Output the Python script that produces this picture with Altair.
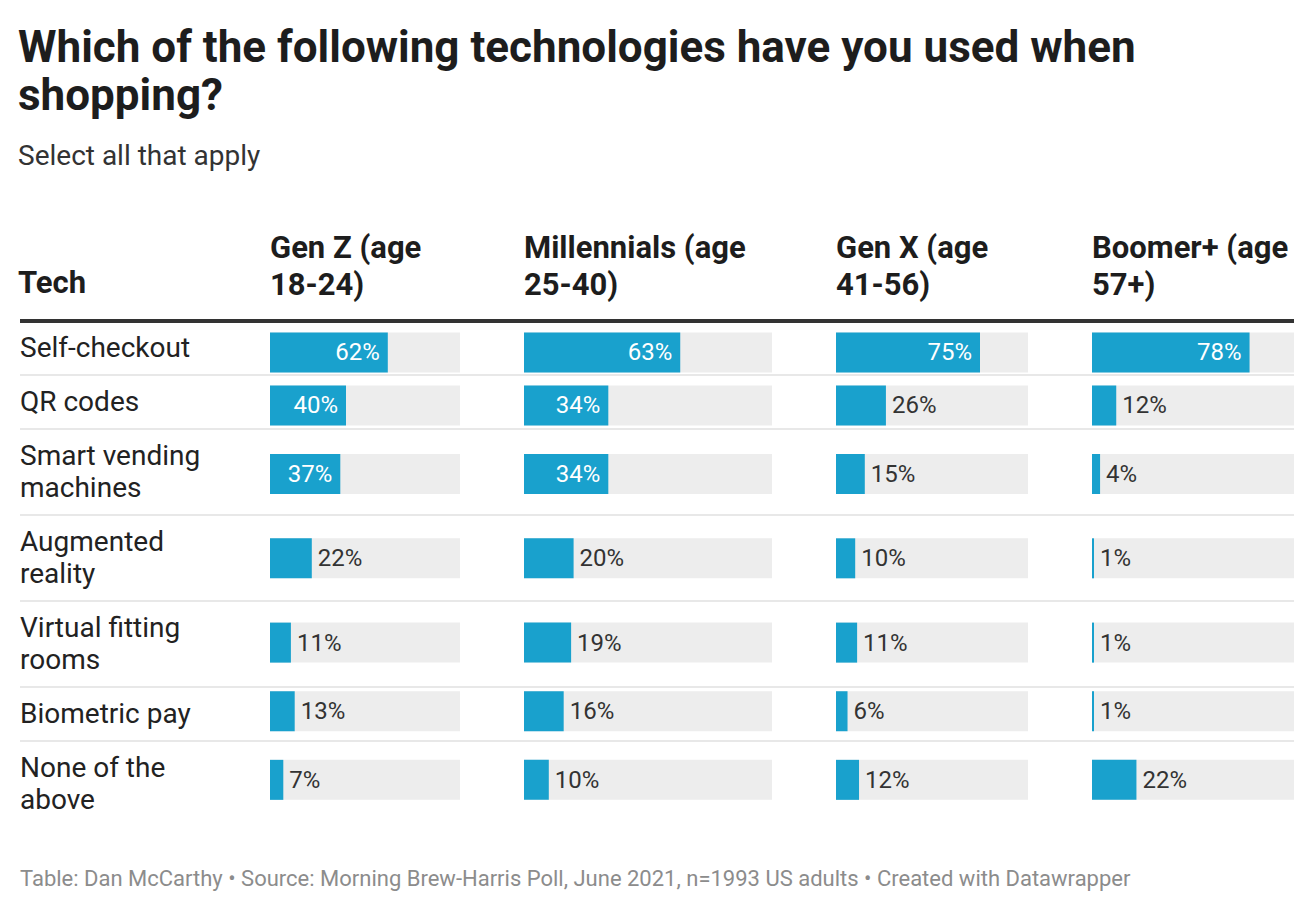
import altair as alt
import pandas as pd

techs = ["Self-checkout", "QR codes", "Smart vending\nmachines", "Augmented\nreality",
         "Virtual fitting\nrooms", "Biometric pay", "None of the\nabove"]
gen_z = [62, 40, 37, 22, 11, 13, 7]
millennials = [63, 34, 34, 20, 19, 16, 10]
gen_x = [75, 26, 15, 10, 11, 6, 12]
boomers = [78, 12, 4, 1, 1, 1, 22]
headers = [["Gen Z (age", "18-24)"], ["Millennials (age", "25-40)"],
           ["Gen X (age", "41-56)"], ["Boomer+ (age", "57+)"]]
row_header = "Tech"
title_lines = ["Which of the following technologies have you used when", "shopping?"]
subtitle = "Select all that apply"
footer = "Table: Dan McCarthy \u2022 Source: Morning Brew-Harris Poll, June 2021, n=1993 US adults \u2022 Created with Datawrapper"

FONT = "Roboto"
BLUE = "#19a1cd"
BG = "#ededed"
SEP = "#e8e8e8"
LINE_H = 32

# row layout from the number of text lines per label
starts, mids, text_ys = [], [], []
pos = 0
for t in techs:
    n = t.count("\n") + 1
    h = 22 + LINE_H * n
    starts.append(pos)
    mids.append(pos + h / 2)
    text_ys.append(pos + h / 2 - LINE_H / 2 * (n - 1))
    pos += h
TOTAL = pos

df = pd.DataFrame({
    "tech": techs, "row_start": starts, "row_mid": mids, "text_y": text_ys,
    "gen_z": gen_z, "millennials": millennials, "gen_x": gen_x, "boomers": boomers,
})

yscale = alt.Scale(domain=[0, TOTAL], reverse=True, nice=False, zero=False)
xscale = alt.Scale(domain=[0, 100], nice=False)
Y = alt.Y("row_mid:Q", scale=yscale, axis=None)
NOVIEW = alt.ViewBackground(stroke="transparent", strokeWidth=0)

panel_widths = [190, 248, 192, 202]
cols = ["gen_z", "millennials", "gen_x", "boomers"]
SPACING = 64
LABEL_W = 186
FULL_W = LABEL_W + sum(panel_widths) + SPACING * len(panel_widths)


def header_title(text):
    return alt.Title(text=text, anchor="start", font=FONT, fontSize=31, fontWeight="bold",
                     lineHeight=37, color="#1d1d1d", baseline="bottom", offset=-12)


def bar_panel(col, header, width):
    base = alt.Chart(df).transform_calculate(
        full="100", label=f"datum['{col}'] + '%'"
    ).encode(y=Y)
    bg = base.mark_bar(orient="horizontal", size=40, color=BG).encode(
        x=alt.X("full:Q", scale=xscale, axis=None))
    fg = base.mark_bar(orient="horizontal", size=40, color=BLUE).encode(
        x=alt.X(f"{col}:Q", scale=xscale, axis=None))
    lab_in = base.transform_filter(f"datum['{col}'] >= 30").mark_text(
        align="right", baseline="middle", dx=-8, dy=1, color="white", font=FONT, fontSize=24
    ).encode(x=alt.X(f"{col}:Q", scale=xscale, axis=None), text="label:N")
    lab_out = base.transform_filter(f"datum['{col}'] < 30").mark_text(
        align="left", baseline="middle", dx=6, dy=1, color="#333333", font=FONT, fontSize=24
    ).encode(x=alt.X(f"{col}:Q", scale=xscale, axis=None), text="label:N")
    return alt.layer(bg, fg, lab_in, lab_out).properties(
        width=width, height=TOTAL, title=header_title(header), view=NOVIEW)


labels = alt.Chart(df).mark_text(
    align="left", baseline="middle", lineBreak="\n", lineHeight=LINE_H, font=FONT,
    fontSize=28, color="#222222", dy=1
).encode(x=alt.value(0), y=alt.Y("text_y:Q", scale=yscale, axis=None), text="tech:N")

seps = alt.Chart(df).transform_filter("datum.row_start > 0").mark_rule(
    color=SEP, strokeWidth=2
).encode(y=alt.Y("row_start:Q", scale=yscale, axis=None), x=alt.value(0), x2=alt.value(FULL_W))

head_line = alt.Chart(pd.DataFrame({"y": [0]})).mark_rule(
    color="#333333", strokeWidth=4
).encode(y=alt.Y("y:Q", scale=yscale, axis=None), x=alt.value(0), x2=alt.value(FULL_W))

foot = alt.Chart(pd.DataFrame({"t": [footer]})).mark_text(
    align="left", baseline="middle", font=FONT, fontSize=22, color="#8c8c8c"
).encode(x=alt.value(0), y=alt.value(558), text="t:N")

label_panel = alt.layer(seps, head_line, labels, foot).properties(
    width=LABEL_W, height=TOTAL, title=header_title(row_header), view=NOVIEW)

panels = [bar_panel(c, h, w) for c, h, w in zip(cols, headers, panel_widths)]

chart = alt.hconcat(label_panel, *panels, spacing=SPACING, bounds="flush").properties(
    title=alt.Title(
        text=title_lines, subtitle=subtitle, anchor="start", font=FONT, fontSize=44,
        fontWeight="bold", lineHeight=48, color="#1d1d1d", subtitleFont=FONT,
        subtitleFontSize=28, subtitleColor="#333333", subtitlePadding=24, offset=62,
        baseline="top"),
    padding={"left": 10, "top": 19, "right": 10, "bottom": 10},
).configure(
    font=FONT, style={"cell": {"stroke": "transparent", "strokeWidth": 0}}
).configure_view(stroke="transparent", strokeWidth=0)

chart.save("out.html", embed_options={"renderer": "svg", "actions": False})
